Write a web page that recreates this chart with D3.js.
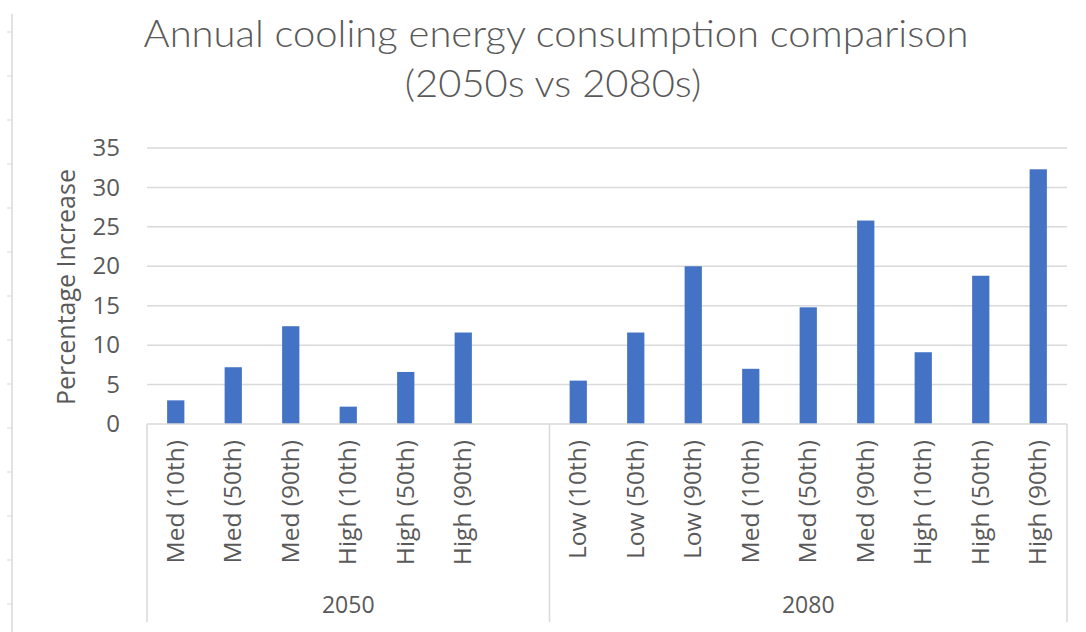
<!DOCTYPE html>
<html>
<head>
<meta charset="utf-8">
<script src="https://cdn.jsdelivr.net/npm/d3@7"></script>
<style>
  body { margin: 0; background: #fff; }
  svg { display: block; }
</style>
</head>
<body>
<svg class="chart"></svg>
<script>
// data
var groups = ["2050", "2080"];
var labels2050 = ["Med (10th)", "Med (50th)", "Med (90th)", "High (10th)", "High (50th)", "High (90th)", ""];
var values2050 = [3.0, 7.2, 12.4, 2.2, 6.6, 11.6, null];
var labels2080 = ["Low (10th)", "Low (50th)", "Low (90th)", "Med (10th)", "Med (50th)", "Med (90th)", "High (10th)", "High (50th)", "High (90th)"];
var values2080 = [5.5, 11.6, 20.0, 7.0, 14.8, 25.8, 9.1, 18.8, 32.3];
var yTicks = [0, 5, 10, 15, 20, 25, 30, 35];
var titleLines = ["Annual cooling energy consumption comparison", "(2050s vs 2080s)"];

var width = 1086, height = 632;
var plot = {left: 147, right: 1067, top: 148, bottom: 424};
var textColor = "#595959", gridColor = "#d9d9d9", barColor = "#4472C4";
var font = "'Open Sans', sans-serif";

// flatten into one list of slots
var rows = [];
labels2050.forEach(function(l, i){ rows.push({group: groups[0], label: l, value: values2050[i], key: groups[0] + "|" + i}); });
labels2080.forEach(function(l, i){ rows.push({group: groups[1], label: l, value: values2080[i], key: groups[1] + "|" + i}); });

var svg = d3.select(".chart").attr("width", width).attr("height", height);

var x = d3.scaleBand()
    .domain(rows.map(function(d){ return d.key; }))
    .range([plot.left, plot.right])
    .paddingInner(0.7)
    .paddingOuter(0.35);
var slot = (plot.right - plot.left) / rows.length;

var y = d3.scaleLinear().domain([0, 35]).range([plot.bottom, plot.top]);

// faint leftover frame on the far left
var leftTicks = d3.range(32, 632, 44);
svg.append("line")
    .attr("x1", 12).attr("x2", 12).attr("y1", 14).attr("y2", height)
    .attr("stroke", gridColor).attr("stroke-width", 1.5);
svg.selectAll(".ltick").data(leftTicks).enter().append("line")
    .attr("x1", 7).attr("x2", 12)
    .attr("y1", function(d){ return d; }).attr("y2", function(d){ return d; })
    .attr("stroke", gridColor).attr("stroke-width", 1);

// title (narrow light face in the original, so fit it horizontally)
var titleY = [47, 97], titleX = [556, 553];
var titles = svg.selectAll(".title").data(titleLines).enter().append("text")
    .attr("class", "title")
    .attr("text-anchor", "middle")
    .attr("fill", textColor)
    .style("font-family", "Lato, " + font)
    .style("font-weight", 300)
    .style("font-size", "38px")
    .text(function(d){ return d; });
var tw = titles.node().getComputedTextLength();
var sx = 825 / tw;
titles.attr("transform", function(d, i){
    return "translate(" + titleX[i] + "," + titleY[i] + ") scale(" + sx + ",1)";
});

// gridlines
svg.append("g").selectAll("line").data(yTicks.filter(function(d){ return d > 0; })).enter().append("line")
    .attr("x1", plot.left).attr("x2", plot.right)
    .attr("y1", function(d){ return y(d); }).attr("y2", function(d){ return y(d); })
    .attr("stroke", gridColor).attr("stroke-width", 1.5);

// y axis labels
var yAxis = d3.axisLeft(y).tickValues(yTicks).tickSize(0).tickPadding(0);
var yg = svg.append("g").attr("transform", "translate(120,0)").call(yAxis);
yg.select(".domain").remove();
yg.selectAll("text")
    .attr("fill", textColor)
    .style("font-family", font)
    .style("font-size", "24px");

svg.append("text")
    .attr("transform", "translate(75,287) rotate(-90)")
    .attr("text-anchor", "middle")
    .attr("fill", textColor)
    .style("font-family", font)
    .style("font-size", "25px")
    .text("Percentage Increase");

// bars
svg.append("g").selectAll("rect").data(rows.filter(function(d){ return d.value != null; })).enter().append("rect")
    .attr("x", function(d){ return x(d.key); })
    .attr("y", function(d){ return y(d.value); })
    .attr("width", x.bandwidth())
    .attr("height", function(d){ return y(0) - y(d.value); })
    .attr("fill", barColor);

// bottom axis line
svg.append("line")
    .attr("x1", plot.left).attr("x2", plot.right)
    .attr("y1", plot.bottom).attr("y2", plot.bottom)
    .attr("stroke", gridColor).attr("stroke-width", 1.5);

// category labels, rotated
svg.append("g").selectAll("text").data(rows).enter().append("text")
    .attr("transform", function(d){
        return "translate(" + (x(d.key) + x.bandwidth() / 2 + 8) + "," + (plot.bottom + 16) + ") rotate(-90)";
    })
    .attr("text-anchor", "end")
    .attr("fill", textColor)
    .style("font-family", font)
    .style("font-size", "24.5px")
    .text(function(d){ return d.label; });

// group boxes and labels
var groupSpans = groups.map(function(g){
    var n = rows.filter(function(d){ return d.group === g; }).length;
    var start = plot.left + rows.findIndex(function(d){ return d.group === g; }) * slot;
    return {group: g, x0: start, x1: start + n * slot};
});
var bounds = [plot.left].concat(groupSpans.map(function(d){ return d.x1; }));
svg.append("g").selectAll("line").data(bounds).enter().append("line")
    .attr("x1", function(d){ return d; }).attr("x2", function(d){ return d; })
    .attr("y1", plot.bottom).attr("y2", 622)
    .attr("stroke", gridColor).attr("stroke-width", 1.5);

svg.append("g").selectAll("text").data(groupSpans).enter().append("text")
    .attr("x", function(d){ return (d.x0 + d.x1) / 2; })
    .attr("y", 613)
    .attr("text-anchor", "middle")
    .attr("fill", textColor)
    .style("font-family", font)
    .style("font-size", "23px")
    .text(function(d){ return d.group; });
</script>
</body>
</html>
